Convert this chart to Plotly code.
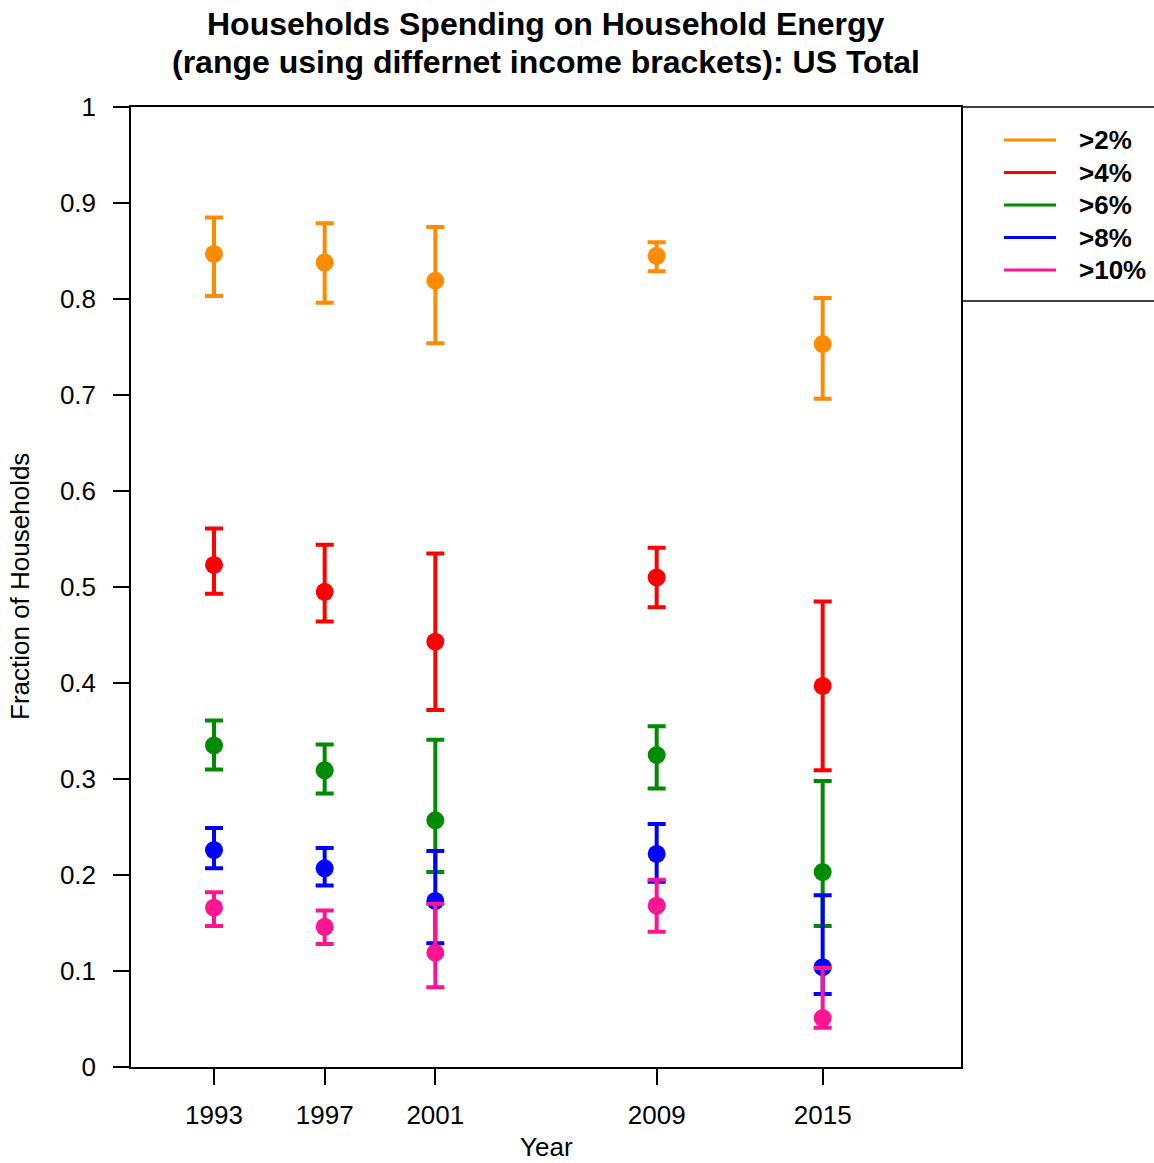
import plotly.graph_objects as go

# Survey years
years = [1993, 1997, 2001, 2009, 2015]

# Share of households spending more than the threshold on energy
labels = [">2%", ">4%", ">6%", ">8%", ">10%"]
colors = ["#FF8C00", "#FF0000", "#008B00", "#0000FF", "#FF1493"]

mid_2 = [0.847, 0.838, 0.819, 0.845, 0.753]
hi_2 = [0.885, 0.879, 0.875, 0.859, 0.801]
lo_2 = [0.803, 0.796, 0.754, 0.829, 0.696]

mid_4 = [0.523, 0.495, 0.443, 0.510, 0.397]
hi_4 = [0.561, 0.544, 0.535, 0.541, 0.485]
lo_4 = [0.493, 0.464, 0.372, 0.479, 0.309]

mid_6 = [0.335, 0.309, 0.257, 0.325, 0.203]
hi_6 = [0.361, 0.336, 0.341, 0.355, 0.298]
lo_6 = [0.310, 0.285, 0.203, 0.290, 0.147]

mid_8 = [0.226, 0.207, 0.173, 0.222, 0.104]
hi_8 = [0.249, 0.228, 0.225, 0.253, 0.179]
lo_8 = [0.207, 0.189, 0.129, 0.193, 0.076]

mid_10 = [0.166, 0.146, 0.119, 0.168, 0.051]
hi_10 = [0.182, 0.163, 0.170, 0.195, 0.103]
lo_10 = [0.147, 0.128, 0.083, 0.141, 0.041]

mids = [mid_2, mid_4, mid_6, mid_8, mid_10]
his = [hi_2, hi_4, hi_6, hi_8, hi_10]
los = [lo_2, lo_4, lo_6, lo_8, lo_10]

y_ticks = [0, 0.1, 0.2, 0.3, 0.4, 0.5, 0.6, 0.7, 0.8, 0.9, 1]
y_tick_text = ["0", "0.1", "0.2", "0.3", "0.4", "0.5", "0.6", "0.7", "0.8", "0.9", "1"]

W, H = 1154, 1163
L, R, T, B = 131, 961, 107, 1067
FONT = "Liberation Sans, Arial, sans-serif"

fig = go.Figure()
for name, col, m, hi, lo in zip(labels, colors, mids, his, los):
    fig.add_trace(go.Scatter(
        x=years, y=m, mode="markers", name=name, showlegend=False,
        marker=dict(color=col, size=18, line=dict(width=0)),
        error_y=dict(
            type="data", symmetric=False,
            array=[h - v for h, v in zip(hi, m)],
            arrayminus=[v - l for v, l in zip(m, lo)],
            color=col, thickness=4, width=9,
        ),
    ))


def px_x(px):
    return (px - L) / (R - L)


def px_y(py):
    return (B - py) / (B - T)


# Legend panel to the right of the plot
shapes = [
    dict(type="line", xref="paper", yref="paper", x0=1, x1=px_x(W + 20),
         y0=1, y1=1, line=dict(color="black", width=1.5)),
    dict(type="line", xref="paper", yref="paper", x0=1, x1=px_x(W + 20),
         y0=px_y(301), y1=px_y(301), line=dict(color="black", width=1.5)),
]
annotations = []
row_y = [140, 172.5, 205, 237.5, 270]
for name, col, ry in zip(labels, colors, row_y):
    shapes.append(dict(type="line", xref="paper", yref="paper",
                       x0=px_x(1004), x1=px_x(1056), y0=px_y(ry), y1=px_y(ry),
                       line=dict(color=col, width=3)))
    annotations.append(dict(xref="paper", yref="paper", x=px_x(1077), y=px_y(ry),
                            text="<b>%s</b>" % name, showarrow=False,
                            xanchor="left", yanchor="middle",
                            font=dict(family=FONT, size=26, color="black")))

# Title and axis titles
annotations += [
    dict(xref="paper", yref="paper", x=0.5, y=px_y(24), showarrow=False,
         text="<b>Households Spending on Household Energy</b>",
         xanchor="center", yanchor="middle",
         font=dict(family=FONT, size=32, color="black")),
    dict(xref="paper", yref="paper", x=0.5, y=px_y(62), showarrow=False,
         text="<b>(range using differnet income brackets): US Total</b>",
         xanchor="center", yanchor="middle",
         font=dict(family=FONT, size=32, color="black")),
    dict(xref="paper", yref="paper", x=0.5, y=px_y(1147), showarrow=False,
         text="Year", xanchor="center", yanchor="middle",
         font=dict(family=FONT, size=26, color="black")),
    dict(xref="paper", yref="paper", x=px_x(20), y=0.5, showarrow=False,
         text="Fraction of Households", textangle=-90,
         xanchor="center", yanchor="middle",
         font=dict(family=FONT, size=26, color="black")),
]

axis_common = dict(
    showgrid=False, zeroline=False, showline=True, mirror=True,
    linecolor="black", linewidth=1.5, ticks="outside", ticklen=16,
    tickwidth=1.5, tickcolor="black",
    tickfont=dict(family=FONT, size=26, color="black"),
)

fig.update_layout(
    width=W, height=H,
    margin=dict(l=L, r=W - R, t=T, b=H - B),
    paper_bgcolor="white", plot_bgcolor="white",
    showlegend=False,
    xaxis=dict(range=[1990, 2020], tickvals=years,
               ticktext=[str(y) for y in years], ticklabelstandoff=8,
               **axis_common),
    yaxis=dict(range=[0, 1], tickvals=y_ticks, ticktext=y_tick_text,
               ticklabelstandoff=12, **axis_common),
    shapes=shapes,
    annotations=annotations,
)

fig.write_html("out.html")
